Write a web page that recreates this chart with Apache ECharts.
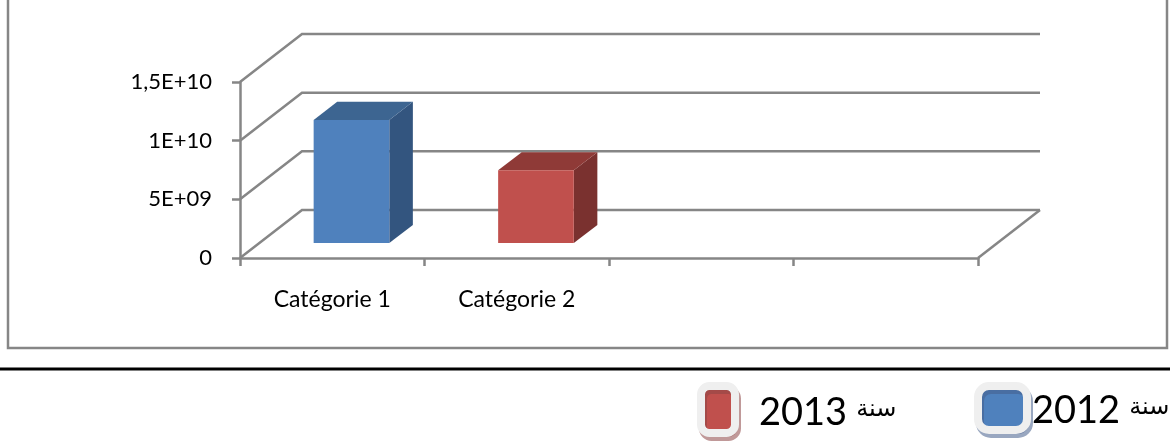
<!DOCTYPE html>
<html>
<head>
<meta charset="utf-8">
<script src="https://cdn.jsdelivr.net/npm/echarts@6/dist/echarts.min.js"></script>
<style>
  html, body { margin: 0; padding: 0; background: #fff; }
  #chart { width: 1170px; height: 448px; }
</style>
</head>
<body>
<div id="chart"></div>
<script>
// Chart values
const categories = ['Catégorie 1', 'Catégorie 2', '', ''];
const seriesNames = ['سنة 2012', 'سنة 2013'];
const values2012 = [1.05e10, null, null, null];
const values2013 = [null, 6.2e9, null, null];
const yTicks = [0, 5e9, 1e10, 1.5e10];
const yTickLabels = ['0', '5E+09', '1E+10', '1,5E+10'];

// Pseudo-3D projection (pixels): offset from the front plane to the back wall
const DX = 62, DY = 48;
const F0 = 0.31, F1 = 0.69;   // bar front / back depth fractions
const BAR_RATIO = 0.41;
const GRID_COLOR = '#868686';
const LINE_W = 2.5;
const FONT = 'Lato, "Liberation Sans", sans-serif';
const ARABIC_FONT = '"DejaVu Sans", sans-serif';

const palettes = [
  { front: '#4f81bd', top: '#3d6591', side: '#33557f' },
  { front: '#c0504d', top: '#8f3a37', side: '#7a312f' }
];

function toPoints(values) {
  const out = [];
  values.forEach((v, i) => { if (v != null) out.push([i, v]); });
  return out;
}

function barRenderer(pal) {
  return function (params, api) {
    const i = api.value(0), v = api.value(1);
    const base = api.coord([i, 0]);
    const top = api.coord([i, v]);
    const w = api.size([1, 0])[0] * BAR_RATIO;
    const fx = base[0] + F0 * DX - w / 2;
    const fy0 = top[1] - F0 * DY, fy1 = base[1] - F0 * DY;
    const ddx = (F1 - F0) * DX, ddy = (F1 - F0) * DY;
    return {
      type: 'group',
      children: [
        { type: 'polygon', shape: { points: [[fx + w, fy0], [fx + w + ddx, fy0 - ddy], [fx + w + ddx, fy1 - ddy], [fx + w, fy1]] }, style: { fill: pal.side } },
        { type: 'polygon', shape: { points: [[fx, fy0], [fx + w, fy0], [fx + w + ddx, fy0 - ddy], [fx + ddx, fy0 - ddy]] }, style: { fill: pal.top } },
        { type: 'rect', shape: { x: fx, y: fy0, width: w, height: fy1 - fy0 }, style: { fill: pal.front } }
      ]
    };
  };
}

// Side wall, back wall and floor edges drawn from the value-axis ticks
function wallRenderer(params, api) {
  const cs = params.coordSys;
  const v = api.value(1);
  const y = api.coord([0, v])[1];
  const left = cs.x, right = cs.x + cs.width;
  const ls = { stroke: GRID_COLOR, lineWidth: LINE_W, fill: null };
  const children = [
    { type: 'polyline', shape: { points: [[left, y], [left + DX, y - DY], [right + DX, y - DY]] }, style: ls }
  ];
  if (v === 0) {
    children.push({ type: 'line', shape: { x1: right, y1: y, x2: right + DX, y2: y - DY }, style: ls });
  }
  return { type: 'group', children };
}

function legendFormatter(name) {
  const parts = name.split(' ');
  return '{y|' + parts[1] + '}{a|' + parts[0] + '}';
}
function legendText(gap) {
  return {
    fontFamily: FONT, fontSize: 12, color: '#000',
    rich: {
      y: { fontFamily: FONT, fontSize: 38, color: '#000', verticalAlign: 'bottom', lineHeight: 44, padding: [0, 0, 0, gap] },
      a: { fontFamily: ARABIC_FONT, fontSize: 24, color: '#000', verticalAlign: 'middle', lineHeight: 44, padding: [0, 0, 0, 9] }
    }
  };
}

const chart = echarts.init(document.getElementById('chart'), null, { renderer: 'canvas' });
chart.setOption({
  animation: false,
  backgroundColor: '#fff',
  grid: { left: 240, top: 82, width: 738, height: 176, containLabel: false },
  xAxis: {
    type: 'category',
    data: categories,
    boundaryGap: true,
    axisLine: { show: true, lineStyle: { color: GRID_COLOR, width: LINE_W } },
    axisTick: { show: true, length: 8, lineStyle: { color: GRID_COLOR, width: LINE_W } },
    axisLabel: { interval: 0, margin: 30, fontFamily: FONT, fontSize: 23, color: '#000' },
    splitLine: { show: false }
  },
  yAxis: {
    type: 'value',
    min: 0, max: 1.5e10, interval: 5e9,
    axisLine: { show: true, lineStyle: { color: GRID_COLOR, width: LINE_W } },
    axisTick: { show: true, length: 8, lineStyle: { color: GRID_COLOR, width: LINE_W } },
    axisLabel: {
      margin: 28, fontFamily: FONT, fontSize: 22, color: '#000',
      formatter: v => yTickLabels[yTicks.indexOf(v)]
    },
    splitLine: { show: false }
  },
  legend: [
    {
      left: 974, top: 382, padding: 0, itemWidth: 49, itemHeight: 44, selectedMode: false,
      data: [{ name: seriesNames[0], icon: 'roundRect',
        itemStyle: { color: palettes[0].front, borderColor: '#efefef', borderWidth: 8,
          shadowColor: 'rgba(70,95,140,0.55)', shadowOffsetX: 2, shadowOffsetY: 4, shadowBlur: 0 } }],
      formatter: legendFormatter, textStyle: legendText(0)
    },
    {
      left: 697, top: 382, padding: 0, itemWidth: 34, itemHeight: 47, selectedMode: false,
      data: [{ name: seriesNames[1], icon: 'roundRect',
        itemStyle: { color: palettes[1].front, borderColor: '#efefef', borderWidth: 8,
          shadowColor: 'rgba(140,70,70,0.55)', shadowOffsetX: 2, shadowOffsetY: 4, shadowBlur: 0 } }],
      formatter: legendFormatter, textStyle: legendText(19)
    }
  ],
  graphic: [
    { type: 'rect', shape: { x: 8, y: -6, width: 1159, height: 354 }, style: { fill: null, stroke: GRID_COLOR, lineWidth: 2.5 }, silent: true },
    { type: 'line', shape: { x1: 0, y1: 369, x2: 1170, y2: 369 }, style: { stroke: '#000', lineWidth: 3 }, silent: true }
  ],
  series: [
    {
      type: 'custom', name: 'walls', silent: true, z: 1,
      renderItem: wallRenderer,
      data: yTicks.map(v => [0, v])
    },
    {
      type: 'custom', name: seriesNames[0], z: 3,
      itemStyle: { color: palettes[0].front },
      renderItem: barRenderer(palettes[0]),
      data: toPoints(values2012)
    },
    {
      type: 'custom', name: seriesNames[1], z: 3,
      itemStyle: { color: palettes[1].front },
      renderItem: barRenderer(palettes[1]),
      data: toPoints(values2013)
    }
  ]
});
</script>
</body>
</html>
